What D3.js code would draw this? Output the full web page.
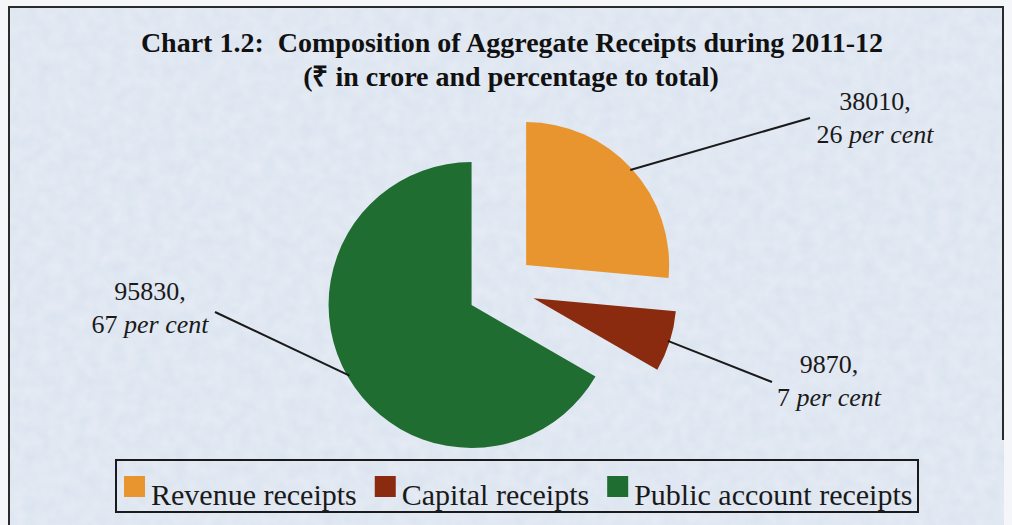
<!DOCTYPE html>
<html>
<head>
<meta charset="utf-8">
<script src="https://cdn.jsdelivr.net/npm/d3@7"></script>
<style>
  body { margin: 0; background: #f4f6fa; }
  svg { display: block; }
</style>
</head>
<body>
<div id="chart"></div>
<script>
// data
var categories = ['Revenue receipts', 'Capital receipts', 'Public account receipts'];
var values = [38010, 9870, 95830];
var percents = [26, 7, 67];
var colors = ['#e9952f', '#8a2a0f', '#1f6d31'];

var width = 1012,
  height = 525;

var cx = 501, cy = 288, radius = 143, explode = 34;

var svg = d3.select('#chart')
  .append('svg')
  .attr('width', width)
  .attr('height', height);

// soft paper texture
var defs = svg.append('defs');
var filt = defs.append('filter').attr('id', 'paper').attr('x', 0).attr('y', 0).attr('width', '100%').attr('height', '100%');
filt.append('feTurbulence').attr('type', 'fractalNoise').attr('baseFrequency', 0.08).attr('numOctaves', 2).attr('seed', 3).attr('result', 'noise');
filt.append('feColorMatrix').attr('in', 'noise').attr('type', 'matrix')
  .attr('values', '0 0 0 0 1  0 0 0 0 1  0 0 0 0 1  0 0 0 0.35 0').attr('result', 'speck');
filt.append('feComposite').attr('in', 'speck').attr('in2', 'SourceGraphic').attr('operator', 'atop');

svg.append('rect')
  .attr('x', 8).attr('y', 6)
  .attr('width', 996).attr('height', 530)
  .attr('fill', '#d9e2ef')
  .attr('filter', 'url(#paper)');

// frame (top, left, right)
svg.append('path')
  .attr('d', 'M9,525 L9,7 L1003,7 L1003,440')
  .attr('fill', 'none')
  .attr('stroke', '#2b2b2b')
  .attr('stroke-width', 2);

// title
var title = svg.append('g')
  .attr('font-family', '"Liberation Serif", "Times New Roman", serif')
  .attr('font-weight', 'bold')
  .attr('font-size', 28)
  .attr('fill', '#111')
  .attr('text-anchor', 'middle');
title.append('text').attr('x', 512).attr('y', 52)
  .attr('xml:space', 'preserve')
  .text('Chart 1.2:  Composition of Aggregate Receipts during 2011-12');
title.append('text').attr('x', 511).attr('y', 86)
  .text('(\u20B9 in crore and percentage to total)');

// pie
var pie = d3.pie().sort(null).startAngle(0).endAngle(2 * Math.PI);
var arcs = pie(values);
var arc = d3.arc().innerRadius(0).outerRadius(radius);

var mid = function(d) { return (d.startAngle + d.endAngle) / 2; };

var slices = svg.append('g')
  .attr('transform', 'translate(' + cx + ',' + cy + ')');

slices.selectAll('path')
  .data(arcs)
  .enter()
  .append('path')
  .attr('d', arc)
  .attr('fill', function(d, i) { return colors[i]; })
  .attr('transform', function(d) {
    var a = mid(d);
    return 'translate(' + (Math.sin(a) * explode) + ',' + (-Math.cos(a) * explode) + ')';
  });

// label anchors, relative to the pie centre
var labelEnds = [[309, -170], [271, 94], [-286, 24]];
var labelPos = [[374, -178, 'middle'], [328, 85, 'middle'], [-351, 12, 'middle']];

var labels = slices.selectAll('.lab')
  .data(arcs)
  .enter()
  .append('g')
  .attr('class', 'lab');

labels.append('line')
  .attr('x1', function(d) { var a = mid(d); return Math.sin(a) * (radius + explode - 2); })
  .attr('y1', function(d) { var a = mid(d); return -Math.cos(a) * (radius + explode - 2); })
  .attr('x2', function(d, i) { return labelEnds[i][0]; })
  .attr('y2', function(d, i) { return labelEnds[i][1]; })
  .attr('stroke', '#1a1a1a')
  .attr('stroke-width', 2);

var lt = labels.append('text')
  .attr('font-family', '"Liberation Serif", "Times New Roman", serif')
  .attr('font-size', 26)
  .attr('fill', '#1a1a1a')
  .attr('text-anchor', function(d, i) { return labelPos[i][2]; })
  .attr('x', function(d, i) { return labelPos[i][0]; })
  .attr('y', function(d, i) { return labelPos[i][1]; });

lt.append('tspan')
  .text(function(d) { return d.data + ','; });
lt.append('tspan')
  .attr('x', function(d, i) { return labelPos[i][0]; })
  .attr('dy', 33)
  .text(function(d, i) { return percents[i] + ' '; })
  .append('tspan')
  .attr('font-style', 'italic')
  .text('per cent');

// legend
var legend = svg.append('g');
legend.append('rect')
  .attr('x', 116).attr('y', 460)
  .attr('width', 802).attr('height', 52)
  .attr('fill', 'none')
  .attr('stroke', '#1a1a1a')
  .attr('stroke-width', 2);

var lx = 124;
categories.forEach(function(c, i) {
  legend.append('rect')
    .attr('x', lx).attr('y', 476)
    .attr('width', 21).attr('height', 21)
    .attr('fill', colors[i]);
  var t = legend.append('text')
    .attr('x', lx + 27).attr('y', 505)
    .attr('font-family', '"Liberation Serif", "Times New Roman", serif')
    .attr('font-size', 30)
    .attr('fill', '#1a1a1a')
    .text(c);
  lx += 27 + t.node().getComputedTextLength() + 18;
});
</script>
</body>
</html>
